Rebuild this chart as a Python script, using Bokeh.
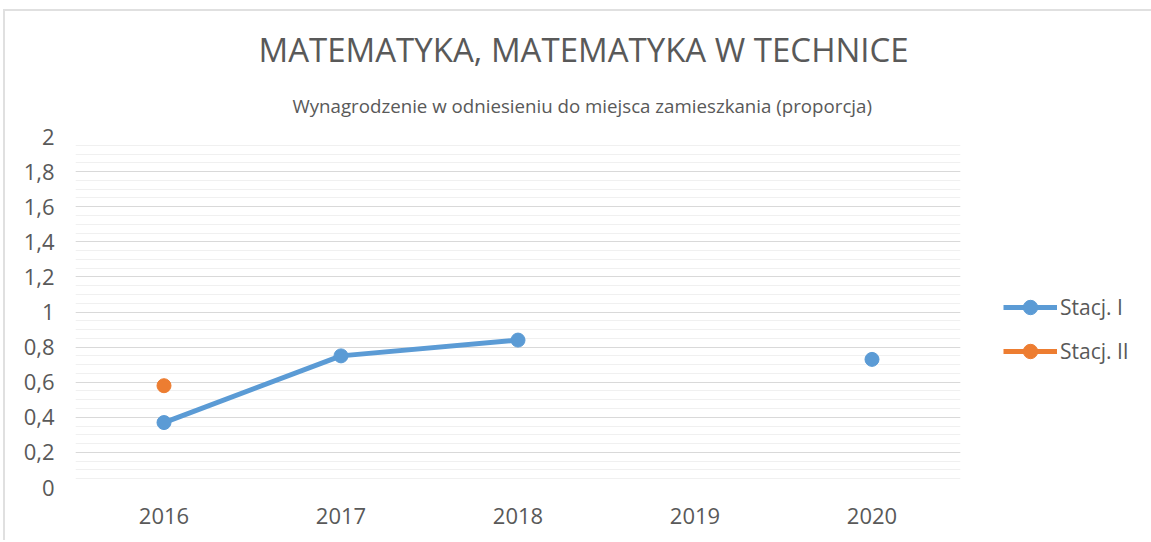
from bokeh.plotting import figure
from bokeh.models import (FactorRange, Range1d, Title, Legend, LegendItem,
                          SingleIntervalTicker, CustomJSTickFormatter, ColumnDataSource)
from bokeh.embed import file_html
from bokeh.resources import INLINE
import numpy as np

years = ["2016", "2017", "2018", "2019", "2020"]
stacj_1 = [0.37, 0.75, 0.84, np.nan, 0.73]
stacj_2 = [0.58, np.nan, np.nan, np.nan, np.nan]
series_names = ["Stacj. I", "Stacj. II"]
colors = ["#5B9BD5", "#ED7D31"]
title_text = "MATEMATYKA, MATEMATYKA W TECHNICE"
subtitle_text = "Wynagrodzenie w odniesieniu do miejsca zamieszkania (proporcja)"

FONT = "Open Sans"
TXT = "#595959"

p = figure(width=1146, height=531, frame_width=885, x_range=FactorRange(*years), y_range=Range1d(0, 2),
           output_backend="svg", toolbar_location=None,
           min_border_left=70, min_border_right=0, min_border_top=125, min_border_bottom=55)
p.outline_line_color = None
p.styles = {"border-top": "2px solid #e0e0e0", "border-left": "2px solid #e0e0e0",
            "margin-top": "9px", "margin-left": "3px"}

sub = Title(text=subtitle_text, text_font=FONT, text_font_size="18.7px",
            text_font_style="normal", text_color=TXT, align="left", offset=217, standoff=38)
p.add_layout(sub, "above")

p.title.text = title_text
p.title.text_font = FONT
p.title.text_font_size = "33px"
p.title.text_font_style = "normal"
p.title.text_color = TXT
p.title.align = "left"
p.title.offset = 183
p.title.standoff = 0

src = ColumnDataSource(dict(x=years, a=stacj_1, b=stacj_2))
l1 = p.line("x", "a", source=src, line_color=colors[0], line_width=5)
c1 = p.scatter("x", "a", source=src, size=14, fill_color=colors[0], line_color=colors[0])
l2 = p.line("x", "b", source=src, line_color=colors[1], line_width=5)
c2 = p.scatter("x", "b", source=src, size=14, fill_color=colors[1], line_color=colors[1])

p.yaxis.ticker = SingleIntervalTicker(interval=0.2, num_minor_ticks=4)
p.yaxis.formatter = CustomJSTickFormatter(code="return (Math.round(tick*10)/10).toString().replace('.', ',');")
for ax in list(p.xaxis) + list(p.yaxis):
    ax.axis_line_color = None
    ax.major_tick_line_color = None
    ax.minor_tick_line_color = None
    ax.major_tick_out = 0
    ax.minor_tick_out = 0
    ax.major_label_text_font = FONT
    ax.major_label_text_font_size = "22px"
    ax.major_label_text_color = TXT
p.yaxis.major_label_standoff = 21
p.xaxis.major_label_standoff = 20

p.xgrid.grid_line_color = None
p.ygrid.grid_line_color = "#d9d9d9"
p.ygrid.grid_line_width = 1
p.ygrid.minor_grid_line_color = "#f0f0f0"
p.ygrid.minor_grid_line_width = 1

legend = Legend(items=[LegendItem(label=series_names[0], renderers=[l1, c1]),
                       LegendItem(label=series_names[1], renderers=[l2, c2])],
                location=(43, 118), glyph_width=54, glyph_height=36, label_standoff=3,
                spacing=8, label_text_font=FONT, label_text_font_size="21px",
                label_text_color=TXT, border_line_color=None, background_fill_alpha=0,
                padding=0, margin=0)
p.add_layout(legend, "right")

open("out.html", "w").write(file_html(p, INLINE))
